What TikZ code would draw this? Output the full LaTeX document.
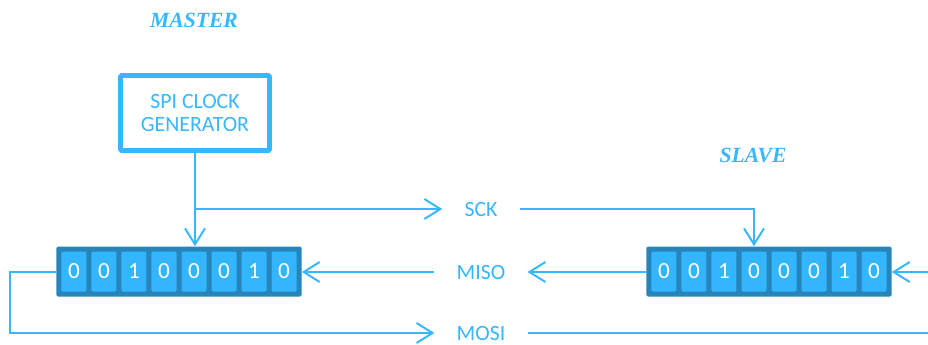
\documentclass[tikz,border=0pt]{standalone}
\usepackage{fontspec}
\setmainfont{Carlito}
\newfontfamily\titlefont{Liberation Serif}
\usepackage{tikz}
\usetikzlibrary{calc, positioning, arrows.meta, matrix}
\definecolor{lineblue}{RGB}{56,182,255}
\definecolor{regblue}{RGB}{38,133,187}
\definecolor{cellblue}{RGB}{51,181,255}
\tikzset{
    register/.style={
        matrix of nodes,
        nodes={
            fill=cellblue,
            minimum width=0.625cm,
            minimum height=1cm,
            inner sep=0pt,
            anchor=center,
            text=white,
            font=\fontsize{16.5}{16.5}\selectfont
        },
        column sep=0.125cm,
        fill=regblue,
        rounded corners=1pt,
        inner sep=0.125cm
    },
    clockbox/.style={rectangle, draw=lineblue, line width=3.5pt, rounded corners=1pt, minimum width=3.725cm, minimum height=1.875cm, align=center, text=lineblue, font=\fontsize{15.5}{17}\selectfont},
    title/.style={font=\titlefont\bfseries\itshape\fontsize{15.4}{16}\selectfont, text=lineblue},
    signal/.style={font=\fontsize{15.5}{16}\selectfont, text=lineblue, inner xsep=0.55cm, inner ysep=0pt},
    wire/.style={draw=lineblue, line width=1.4pt},
    arrow/.style={wire, -{Straight Barb[length=0.4cm, width=0.5cm]}}
}
\begin{document}
\begin{tikzpicture}[x=0.025cm, y=-0.025cm]
        \useasboundingbox (0,0) rectangle (928,344);
        % Master
        \node[clockbox] (clock) at (195,113) {SPI CLOCK\\GENERATOR};
        \node[title] (mastertitle) at (194,20) {MASTER};
        \matrix (mreg) [register] at (179,271.5) {0 & 0 & 1 & 0 & 0 & 0 & 1 & 0\\};
        
        % Slave
        \matrix (sreg) [register] at (769,271.5) {0 & 0 & 1 & 0 & 0 & 0 & 1 & 0\\};
        \node[title] (slavetitle) at (753,155) {SLAVE};
        
        % Signals
        \node[signal] (sck) at (481,209) {SCK};
        \node[signal] (miso) at (481,272) {MISO};
        \node[signal] (mosi) at (481,333) {MOSI};
        \coordinate (mosiout) at (928,333);
        \coordinate (mosiin) at (928,272);
        
        % Arrows
        \draw[arrow] (clock.south) -- (clock.south |- mreg.north);
        \draw[arrow] (clock.south |- sck) -- (sck.west);
        \draw[arrow] (sck.east) -| (sreg-1-4.north |- sreg.north);
        
        \draw[arrow] (sreg.west |- miso) -- (miso.east);
        \draw[arrow] (miso.west) -- (mreg.east |- miso);
        
        \draw[arrow] (mreg.west |- miso) -- ++(-46,0) |- (mosi.west);
        \draw[wire] (mosi.east) -- (mosiout);
        \draw[arrow] (mosiin) -- (sreg.east |- mosiin);
    \end{tikzpicture}
\end{document}
